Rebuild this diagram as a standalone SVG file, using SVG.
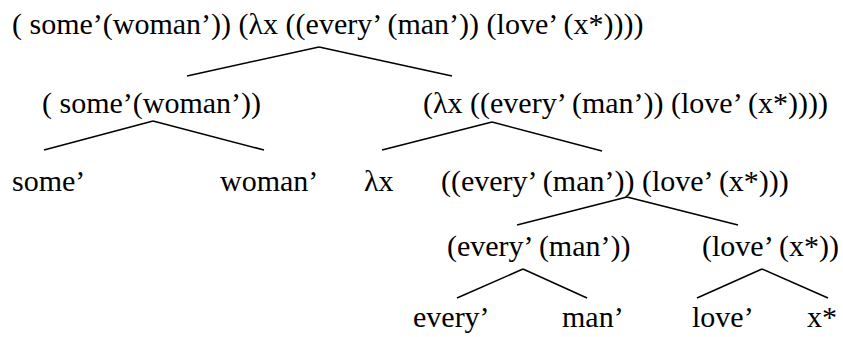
<svg xmlns="http://www.w3.org/2000/svg" width="843" height="337" viewBox="0 0 843 337" font-family="Liberation Serif, Tinos, Times New Roman, serif" font-size="30">
<rect width="843" height="337" fill="#fff"/>
<g id="root"><text x="12" y="34" font-family="Liberation Serif, Tinos, serif">( some’(woman’)) (λx ((every’ (man’)) (love’ (x*))))</text></g>
<g id="some-woman"><text x="42" y="113" font-family="Liberation Serif, Tinos, serif">( some’(woman’))</text></g>
<g id="lambda-body"><text x="423" y="113" font-family="Liberation Serif, Tinos, serif">(λx ((every’ (man’)) (love’ (x*))))</text></g>
<g id="some"><text x="12" y="191" font-family="Liberation Serif, Tinos, serif">some’</text></g>
<g id="woman"><text x="220" y="191" font-family="Liberation Serif, Tinos, serif">woman’</text></g>
<g id="lambda-x"><text x="364" y="191" font-family="Liberation Serif, Tinos, serif">λx</text></g>
<g id="body"><text x="441" y="191" font-family="Liberation Serif, Tinos, serif">((every’ (man’)) (love’ (x*)))</text></g>
<g id="every-man"><text x="447" y="256" font-family="Liberation Serif, Tinos, serif">(every’ (man’))</text></g>
<g id="love-x"><text x="702" y="256" font-family="Liberation Serif, Tinos, serif">(love’ (x*))</text></g>
<g id="every"><text x="413" y="327" font-family="Liberation Serif, Tinos, serif">every’</text></g>
<g id="man"><text x="562" y="327" font-family="Liberation Serif, Tinos, serif">man’</text></g>
<g id="love"><text x="692" y="327" font-family="Liberation Serif, Tinos, serif">love’</text></g>
<g id="xstar"><text x="807" y="327" font-family="Liberation Serif, Tinos, serif">x*</text></g>
<g id="edges" stroke="#000" stroke-width="1.5">
<line x1="319" y1="47" x2="187" y2="76"/>
<line x1="319" y1="47" x2="452" y2="76"/>
<line x1="153" y1="121" x2="44" y2="150"/>
<line x1="153" y1="121" x2="264" y2="150"/>
<line x1="492" y1="122" x2="382" y2="150"/>
<line x1="492" y1="122" x2="602" y2="151"/>
<line x1="627" y1="197" x2="517" y2="225"/>
<line x1="627" y1="197" x2="738" y2="225"/>
<line x1="523" y1="269" x2="457" y2="298"/>
<line x1="523" y1="269" x2="587" y2="298"/>
<line x1="762" y1="269" x2="697" y2="298"/>
<line x1="762" y1="269" x2="828" y2="298"/>
</g>
</svg>
